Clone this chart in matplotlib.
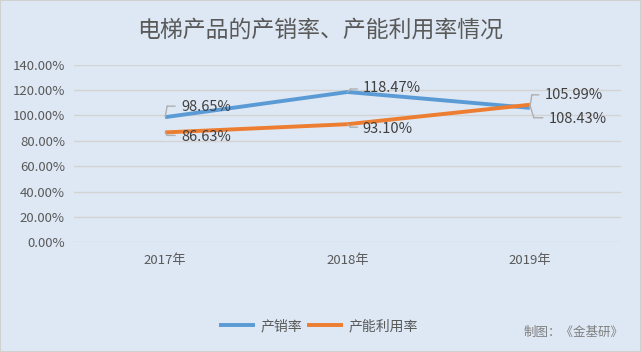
import matplotlib
matplotlib.use("Agg")
import matplotlib.pyplot as plt
import matplotlib.transforms as mtransforms
from matplotlib.patches import Rectangle

plt.rcParams['font.family'] = ['Noto Sans CJK SC', 'DejaVu Sans']

# Data
years = ['2017年', '2018年', '2019年']
sales_rate = [98.65, 118.47, 105.99]      # 产销率
capacity_rate = [86.63, 93.10, 108.43]    # 产能利用率
y_ticks = [0, 20, 40, 60, 80, 100, 120, 140]

bg = '#DEE8F4'
blue = '#5B9BD5'
orange = '#ED7D31'

fig = plt.figure(figsize=(6.41, 3.52), dpi=100, facecolor=bg)
ax = fig.add_axes([0.1154, 0.3116, 0.8534, 0.5046])
ax.set_facecolor(bg)

x = list(range(len(years)))
ax.plot(x, sales_rate, color=blue, lw=2.8, solid_capstyle='butt', label='产销率', zorder=3)
ax.plot(x, capacity_rate, color=orange, lw=2.8, solid_capstyle='butt', label='产能利用率', zorder=3)

ax.set_xlim(-0.5, 2.5)
ax.set_ylim(0, 140)
ax.set_yticks(y_ticks)
ax.set_yticklabels(['{:.2f}%'.format(v) for v in y_ticks])
ax.set_xticks(x)
ax.set_xticklabels(years)
ax.grid(axis='y', color='#D3D3D3', lw=1)
ax.set_axisbelow(True)
for s in ax.spines.values():
    s.set_visible(False)
ax.tick_params(axis='y', length=0, pad=6.5, labelsize=9.5, labelcolor='#595959')
ax.tick_params(axis='x', length=0, pad=8.5, labelsize=9.5, labelcolor='#595959')

# Data labels with leader lines (offsets in pixels)
# (x, y, elbow dx, elbow dy, end dx, text dx, text dy)
labels = [
    (0, sales_rate[0], 2, 11, 10, 16, 10),
    (0, capacity_rate[0], 2, -3, 10, 16, -5),
    (1, sales_rate[1], 3, 3, 10, 15, 4),
    (1, capacity_rate[1], 3, -3, 10, 15, -5),
    (2, sales_rate[2], 2, 13, 9, 15, 13),
    (2, capacity_rate[2], 4, -13, 13, 19, -14),
]
for xi, yi, ex, ey, endx, tx, ty in labels:
    # leader segments
    t0 = ax.transData
    t1 = mtransforms.offset_copy(ax.transData, fig, x=ex, y=ey, units='dots')
    t2 = mtransforms.offset_copy(ax.transData, fig, x=endx, y=ey, units='dots')
    ax.annotate('', xy=(xi, yi), xycoords=t1, xytext=(xi, yi), textcoords=t0,
                arrowprops=dict(arrowstyle='-', color='#AFAFAF', lw=1, shrinkA=0, shrinkB=0))
    ax.annotate('', xy=(xi, yi), xycoords=t2, xytext=(xi, yi), textcoords=t1,
                arrowprops=dict(arrowstyle='-', color='#AFAFAF', lw=1, shrinkA=0, shrinkB=0))
    ax.annotate('{:.2f}%'.format(yi), xy=(xi, yi), xytext=(tx, ty), textcoords='offset pixels',
                ha='left', va='center', fontsize=10.5, color='#404040', zorder=5)

# Title
fig.text(0.5, 0.915, '电梯产品的产销率、产能利用率情况', ha='center', va='center',
         fontsize=16.5, color='#595959')

# Legend
fig.legend(loc='center', bbox_to_anchor=(0.497, 0.074), ncol=2, frameon=False,
           fontsize=10, handlelength=2.6, handletextpad=0.4, columnspacing=0.3,
           labelcolor='#595959')

# Source
fig.text(0.972, 0.057, '制图：《金基研》', ha='right', va='center', fontsize=9, color='#7F7F7F')

# Border
fig.patches.append(Rectangle((0, 0), 1, 1, transform=fig.transFigure, fill=False,
                             edgecolor='#D0D0D0', lw=1.5))

fig.savefig('out.png', dpi=100, facecolor=bg)
